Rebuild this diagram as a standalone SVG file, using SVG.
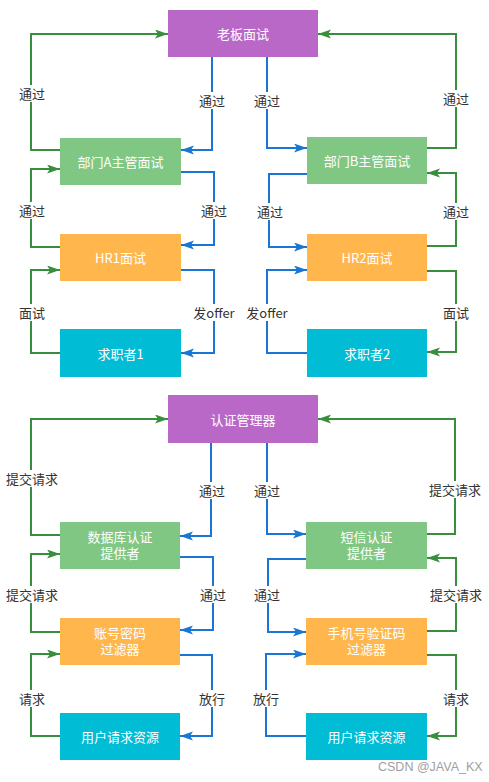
<svg xmlns="http://www.w3.org/2000/svg" width="489" height="782" viewBox="0 0 489 782">
<style>
.node text{font-family:"Noto Sans CJK SC","Liberation Sans",sans-serif;font-size:13px;fill:#ffffff;text-anchor:middle;dominant-baseline:central}
.node text.ml{font-family:"Liberation Sans","Noto Sans CJK SC",sans-serif}
.purple{fill:#ba68c8}.green{fill:#81c784}.orange{fill:#ffb74d}.cyan{fill:#00bcd4}
.g{fill:none;stroke:#388e3c;stroke-width:2;marker-end:url(#ag)}
.b{fill:none;stroke:#1976d2;stroke-width:2;marker-end:url(#ab)}
.lbl rect{fill:#ffffff}
.lbl text{font-family:"Noto Sans CJK SC","Liberation Sans",sans-serif;font-size:13px;fill:#333333;text-anchor:middle;dominant-baseline:central}
.wm{font-family:"Liberation Sans",sans-serif;font-size:12.5px;fill:#a0a0a0}
</style>
<defs>
<marker id="ag" markerUnits="userSpaceOnUse" markerWidth="14" markerHeight="10" refX="13" refY="4.5" orient="auto"><path d="M0,0 L13,4.5 L0,9 L3,4.5 z" fill="#388e3c"/></marker>
<marker id="ab" markerUnits="userSpaceOnUse" markerWidth="14" markerHeight="10" refX="13" refY="4.5" orient="auto"><path d="M0,0 L13,4.5 L0,9 L3,4.5 z" fill="#1976d2"/></marker>
</defs>
<rect width="489" height="782" fill="#ffffff"/>
<g id="connectors">
<path class="g" d="M60,150 H31 V34 H168"/>
<path class="b" d="M212,57 V150 H181"/>
<path class="g" d="M60,247 H31 V169 H60"/>
<path class="b" d="M181,172 H214 V245 H181"/>
<path class="g" d="M60,353 H31 V270 H60"/>
<path class="b" d="M181,270 H214 V353 H181"/>
<path class="b" d="M267,57 V148 H307"/>
<path class="g" d="M427,148 H456 V34 H318"/>
<path class="b" d="M307,174 H269 V247 H307"/>
<path class="g" d="M427,246 H456 V173 H427"/>
<path class="b" d="M307,353 H267 V270 H307"/>
<path class="g" d="M427,271 H456 V352 H427"/>
<path class="g" d="M60,535 H31 V419 H168"/>
<path class="b" d="M211,443 V536 H180"/>
<path class="g" d="M60,632 H31 V554 H60"/>
<path class="b" d="M180,557 H213 V630 H180"/>
<path class="g" d="M60,736 H31 V654 H60"/>
<path class="b" d="M180,655 H212 V736 H180"/>
<path class="b" d="M267,443 V534 H306"/>
<path class="g" d="M427,534 H455 V419 H318"/>
<path class="b" d="M306,559 H268 V632 H306"/>
<path class="g" d="M427,631 H456 V558 H427"/>
<path class="b" d="M306,736 H266 V654 H306"/>
<path class="g" d="M427,655 H456 V736 H427"/>
<g class="lbl">
<rect x="18" y="85" width="28" height="17"/><text x="32" y="93.5">通过</text>
<rect x="198" y="92" width="28" height="17"/><text x="212" y="100.5">通过</text>
<rect x="253" y="92" width="28" height="17"/><text x="267" y="100.5">通过</text>
<rect x="442" y="90" width="28" height="17"/><text x="456" y="98.5">通过</text>
<rect x="18" y="202" width="28" height="17"/><text x="32" y="210.5">通过</text>
<rect x="200" y="202" width="28" height="17"/><text x="214" y="210.5">通过</text>
<rect x="256" y="203" width="28" height="17"/><text x="270" y="211.5">通过</text>
<rect x="442" y="203" width="28" height="17"/><text x="456" y="211.5">通过</text>
<rect x="18" y="304" width="28" height="17"/><text x="32" y="312.5">面试</text>
<rect x="192" y="304" width="44" height="17"/><text x="214" y="312.5">发offer</text>
<rect x="245" y="304" width="44" height="17"/><text x="267" y="312.5">发offer</text>
<rect x="442" y="304" width="28" height="17"/><text x="456" y="312.5">面试</text>
<rect x="5" y="470" width="54" height="17"/><text x="32" y="478.5">提交请求</text>
<rect x="198" y="482" width="28" height="17"/><text x="212" y="490.5">通过</text>
<rect x="253" y="482" width="28" height="17"/><text x="267" y="490.5">通过</text>
<rect x="428" y="481" width="54" height="17"/><text x="455" y="489.5">提交请求</text>
<rect x="5" y="586" width="54" height="17"/><text x="32" y="594.5">提交请求</text>
<rect x="199" y="586" width="28" height="17"/><text x="213" y="594.5">通过</text>
<rect x="253" y="586" width="28" height="17"/><text x="267" y="594.5">通过</text>
<rect x="429" y="586" width="54" height="17"/><text x="456" y="594.5">提交请求</text>
<rect x="18" y="690" width="28" height="17"/><text x="32" y="698">请求</text>
<rect x="198" y="690" width="28" height="17"/><text x="212" y="698">放行</text>
<rect x="252" y="690" width="28" height="17"/><text x="266" y="698">放行</text>
<rect x="442" y="690" width="28" height="17"/><text x="456" y="698">请求</text>
</g>
</g>
<g id="boss" class="node"><rect class="purple" x="168" y="10" width="150" height="47"/><text x="243" y="33.5">老板面试</text></g>
<g id="deptA" class="node"><rect class="green" x="60" y="138" width="121" height="47"/><text x="120.5" y="161.5">部门A主管面试</text></g>
<g id="deptB" class="node"><rect class="green" x="307" y="137" width="120" height="47"/><text x="367" y="160.5">部门B主管面试</text></g>
<g id="hr1" class="node"><rect class="orange" x="60" y="234" width="121" height="47"/><text x="120.5" y="257.5">HR1面试</text></g>
<g id="hr2" class="node"><rect class="orange" x="307" y="234" width="120" height="47"/><text x="367" y="257.5">HR2面试</text></g>
<g id="cand1" class="node"><rect class="cyan" x="60" y="329" width="121" height="48"/><text x="120.5" y="353">求职者1</text></g>
<g id="cand2" class="node"><rect class="cyan" x="307" y="329" width="120" height="48"/><text x="367" y="353">求职者2</text></g>
<g id="auth" class="node"><rect class="purple" x="168" y="395" width="150" height="48"/><text x="243" y="419">认证管理器</text></g>
<g id="db" class="node"><rect class="green" x="60" y="522" width="120" height="47"/><text class="ml" x="120" y="537.5">数据库认证</text><text class="ml" x="120" y="553.5">提供者</text></g>
<g id="sms" class="node"><rect class="green" x="306" y="522" width="121" height="47"/><text class="ml" x="366.5" y="537.5">短信认证</text><text class="ml" x="366.5" y="553.5">提供者</text></g>
<g id="pwd" class="node"><rect class="orange" x="60" y="618" width="120" height="47"/><text class="ml" x="120" y="633.5">账号密码</text><text class="ml" x="120" y="649.5">过滤器</text></g>
<g id="phone" class="node"><rect class="orange" x="306" y="618" width="121" height="47"/><text class="ml" x="366.5" y="633.5">手机号验证码</text><text class="ml" x="366.5" y="649.5">过滤器</text></g>
<g id="res1" class="node"><rect class="cyan" x="60" y="713" width="120" height="47"/><text x="120" y="736.5">用户请求资源</text></g>
<g id="res2" class="node"><rect class="cyan" x="306" y="713" width="121" height="47"/><text x="366.5" y="736.5">用户请求资源</text></g>
<text class="wm" x="378" y="771">CSDN @JAVA_KX</text>
</svg>
